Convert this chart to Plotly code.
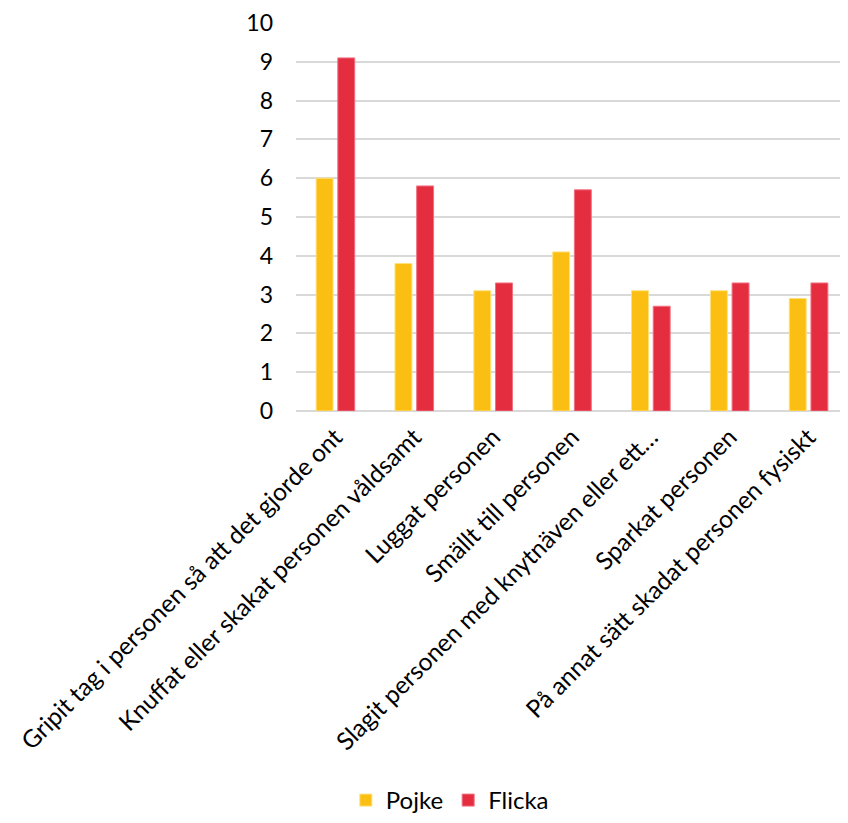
import plotly.graph_objects as go

categories = [
    "Gripit tag i personen så att det gjorde ont",
    "Knuffat eller skakat personen våldsamt",
    "Luggat personen",
    "Smällt till personen",
    "Slagit personen med knytnäven eller ett…",
    "Sparkat personen",
    "På annat sätt skadat personen fysiskt",
]
pojke = [6.0, 3.8, 3.1, 4.1, 3.1, 3.1, 2.9]
flicka = [9.1, 5.8, 3.3, 5.7, 2.7, 3.3, 3.3]
y_ticks = list(range(0, 11))

YELLOW = "#FBBE12"
RED = "#E52D40"
FONT = "Lato, 'Open Sans', sans-serif"

fig = go.Figure()
fig.add_trace(go.Bar(name="Pojke", x=categories, y=pojke, marker=dict(color=YELLOW, line=dict(color="#FFE07A", width=1))))
fig.add_trace(go.Bar(name="Flicka", x=categories, y=flicka, marker=dict(color=RED, line=dict(color="#F07080", width=1))))

fig.update_layout(
    width=840, height=815,
    margin=dict(l=288, r=0, t=15, b=412, autoexpand=False),
    paper_bgcolor="white", plot_bgcolor="white",
    barmode="group", bargap=0.45, bargroupgap=0.22,
    font=dict(family=FONT, size=23, color="#000000"),
    showlegend=True,
    legend=dict(orientation="h", xref="container", yref="container", x=0.526, y=-0.022,
                xanchor="center", yanchor="bottom", font=dict(size=24),
                itemwidth=30, traceorder="normal"),
    xaxis=dict(tickangle=-45, tickfont=dict(size=24.5), showgrid=False,
               showline=False, ticks="", ticklabelstandoff=6),
    yaxis=dict(range=[0, 10], tickvals=y_ticks, showgrid=True, gridcolor="#D9D9D9",
               gridwidth=1.5, zeroline=True, zerolinecolor="#D9D9D9", zerolinewidth=1.5,
               tickfont=dict(size=23), ticklabelstandoff=22, showline=False),
)

fig.write_html("out.html")
